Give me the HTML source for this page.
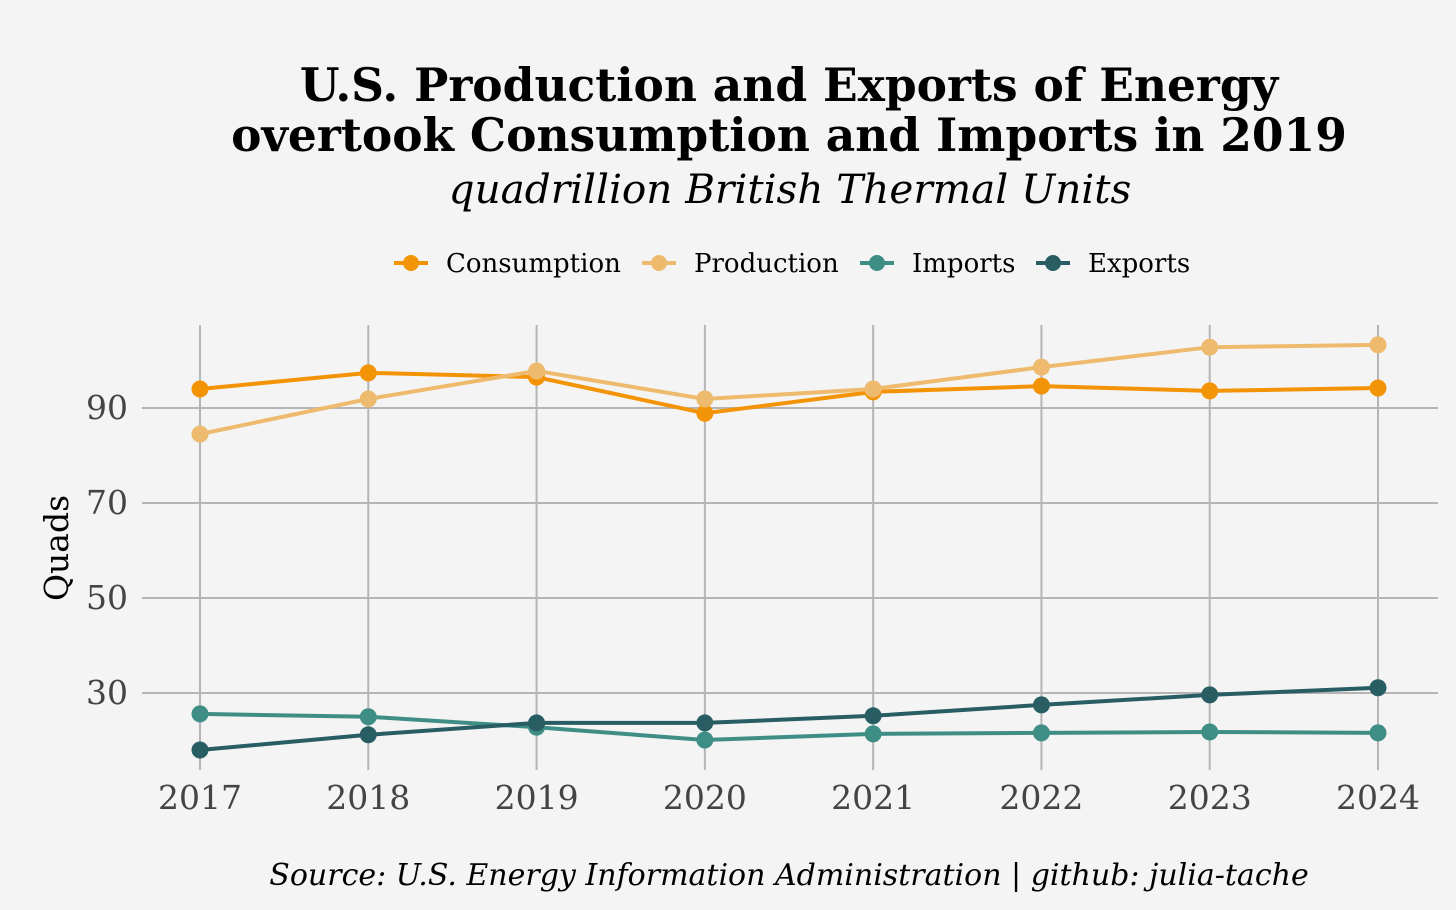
<!DOCTYPE html>
<html><head><meta charset="utf-8"><style>
body{margin:0;background:#f4f4f4;}
svg{display:block;font-family:"DejaVu Serif","Liberation Serif",serif;}
</style></head><body>
<svg id="chart" width="1456" height="910">
<rect width="1456" height="910" fill="#f4f4f4"/>
<text x="789" y="101" text-anchor="middle" font-size="45.5" font-weight="bold">U.S. Production and Exports of Energy</text>
<text x="789" y="151" text-anchor="middle" font-size="45.5" font-weight="bold">overtook Consumption and Imports in 2019</text>
<text x="790" y="203" text-anchor="middle" font-size="40.5" font-style="italic">quadrillion British Thermal Units</text>
<text x="789" y="885" text-anchor="middle" font-size="30" font-style="italic">Source: U.S. Energy Information Administration | github: julia-tache</text>
<text transform="translate(68,548) rotate(-90)" text-anchor="middle" font-size="33">Quads</text>
<g id="grid"></g><g id="series"></g><g id="legend"></g>
</svg>
<script>
const years=[2017,2018,2019,2020,2021,2022,2023,2024];
const consumption=[94.0,97.4,96.5,88.9,93.4,94.6,93.6,94.2];
const production=[84.5,91.9,97.8,91.9,94.0,98.6,102.8,103.3];
const imports=[25.6,25.0,22.8,20.1,21.4,21.6,21.8,21.6];
const exportsV=[18.0,21.2,23.7,23.7,25.2,27.5,29.6,31.1];
const yTicks=[30,50,70,90];
const seriesNames=["Consumption","Production","Imports","Exports"];
const NS="http://www.w3.org/2000/svg";
const xS=i=>200+i*(1178/(years.length-1));
const yS=v=>408-(v-90)*4.75;
function mk(t,a,p){const e=document.createElementNS(NS,t);for(const k in a)e.setAttribute(k,a[k]);p.appendChild(e);return e;}
const grid=document.getElementById('grid');
yTicks.forEach(t=>{
 const l=mk('line',{x1:142,x2:1438,y1:yS(t),y2:yS(t),stroke:'#b5b5b5','stroke-width':2},grid);
 
 
 const tx=mk('text',{x:128,y:yS(t)+11,'text-anchor':'end','font-size':33,fill:'#444'},grid);tx.textContent=t;
 
 
});
years.forEach((y,i)=>{
 const l=mk('line',{x1:xS(i),x2:xS(i),y1:325,y2:770,stroke:'#b5b5b5','stroke-width':2},grid);
 
 
 const tx=mk('text',{x:xS(i),y:809,'text-anchor':'middle','font-size':33,fill:'#444'},grid);tx.textContent=y;
 
 
});
const colors=["#f39406","#eeba6e","#3f8e86","#285e63"];
const data=[consumption,production,imports,exportsV];
const order=[2,3,0,1];
const sg=document.getElementById('series');
order.forEach(k=>{
 const g=mk('g',{},sg);
 
 
 const pts=data[k].map((v,i)=>xS(i)+','+yS(v)).join(' ');
 mk('polyline',{points:pts,fill:'none',stroke:colors[k],'stroke-width':4},g);
 data[k].forEach((v,i)=>{
  const c=mk('circle',{cx:xS(i),cy:yS(v),r:8.5,fill:colors[k]},g);
  
  
 });
});
const lg=document.getElementById('legend');
const lx=[392,640,858,1034];
seriesNames.forEach((n,k)=>{
 const g=mk('g',{},lg);
 
 
 mk('line',{x1:lx[k]+2,x2:lx[k]+36,y1:263,y2:263,stroke:colors[k],'stroke-width':4},g);
 mk('circle',{cx:lx[k]+19,cy:263,r:8,fill:colors[k]},g);
 const t=mk('text',{x:lx[k]+54,y:272,'font-size':26},g);t.textContent=n;
});
</script>
</body></html>
